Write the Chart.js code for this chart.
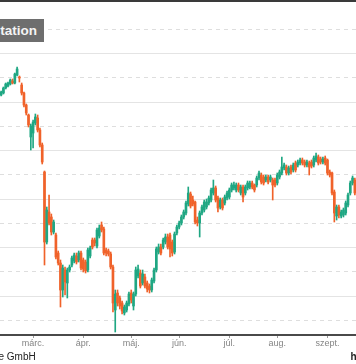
<!DOCTYPE html>
<html>
<head>
<meta charset="utf-8">
<script src="https://cdn.jsdelivr.net/npm/chart.js@4/dist/chart.umd.min.js"></script>
<style>
  html, body { margin: 0; padding: 0; background: #fff; }
  #wrap { position: relative; width: 356px; height: 364px; overflow: hidden; }
  #chartBox { position: absolute; left: 0; top: 0; width: 356px; height: 364px; }
  #topline { position: absolute; left: 0; top: 0; width: 356px; height: 2px; background: #3a3a3a; }
  #badge { position: absolute; left: 0; top: 19px; width: 44px; height: 23px; background: #6e6e6e; overflow: hidden; }
  #badge span { position: absolute; right: 7px; top: 0; font: bold 13.5px "Liberation Sans", Arial, sans-serif; line-height: 23px; color: #f4f4f4; white-space: nowrap; }
  #foot { position: absolute; left: -1.5px; top: 352px; font: 10px "Liberation Sans", Arial, sans-serif; line-height: 10px; color: #222; white-space: nowrap; }
  #footR { position: absolute; left: 350.5px; top: 352px; font: bold 10px "Liberation Sans", Arial, sans-serif; line-height: 10px; color: #222; white-space: nowrap; }
</style>
</head>
<body>
<div id="wrap">
  <div id="chartBox"><canvas id="c"></canvas></div>
  <div id="topline"></div>
  <div id="badge"><span>station</span></div>
  <div id="foot">e GmbH</div>
  <div id="footR">h</div>
</div>
<script>
// Month axis labels and the trading-day index where each month starts
const monthNames = ['márc.', 'ápr.', 'máj.', 'jún.', 'júl.', 'aug.', 'szept.'];
const monthStart = [14, 36, 57, 78, 100, 121, 143];

// Daily OHLC values
const open = [
  305,307,312,314,316,319,317,325,323,315,
  307,295,285,263,267,277,282,270,255,228,
  158,188,183,168,165,147,137,110,130,117,
  130,135,139,144,140,147,140,138,130,144,
  160,160,154,164,175,171,150,149,146,133,
  90,107,102,97,87,90,96,107,94,106,
  124,127,117,123,117,114,110,119,130,148,
  153,153,158,163,165,158,148,167,173,177,
  183,187,196,206,200,198,180,177,187,190,
  193,197,200,207,212,202,193,200,197,202,
  203,210,212,210,215,207,213,207,212,213,
  217,215,215,222,225,223,220,223,220,220,
  220,217,223,227,232,233,227,233,230,237,
  235,237,240,238,235,237,238,235,240,243,
  241,238,242,240,228,227,208,184,193,184,
  185,187,195,207,217,220
];
const close = [
  308,312,316,317,320,317,326,331,322,307,
  295,287,275,274,278,283,270,255,238,158,
  190,177,168,178,143,137,110,132,118,130,
  133,142,145,138,147,132,131,129,150,152,
  153,157,170,172,170,147,147,146,133,97,
  106,97,94,89,93,97,106,100,106,130,
  131,114,126,114,111,110,120,130,151,153,
  147,160,163,153,151,147,166,173,177,183,
  188,197,207,194,196,178,177,187,193,198,
  198,202,210,212,200,192,200,192,203,207,
  210,215,215,215,210,213,203,213,217,217,
  213,210,222,227,218,217,223,218,223,215,
  215,225,228,233,235,227,232,228,235,230,
  238,240,237,235,238,233,234,242,244,237,
  238,241,237,227,225,207,187,193,185,188,
  190,197,205,217,222,207
];
const high = [
  309,313,317,318,321,321,327,333,324,317,
  308,296,286,276,280,286,285,272,257,229,
  193,205,186,180,167,149,140,135,133,132,
  135,144,147,147,149,149,142,140,152,154,
  162,162,172,175,178,173,152,151,148,135,
  110,110,104,99,95,99,108,110,108,133,
  135,130,130,126,119,116,122,132,153,156,
  156,162,166,166,167,160,168,175,179,185,
  190,199,213,208,204,199,183,189,195,200,
  201,204,212,220,214,204,202,202,205,209,
  212,217,218,217,217,215,215,215,219,219,
  219,216,224,229,227,225,225,225,225,222,
  222,227,230,243,237,235,234,235,237,239,
  240,242,242,240,240,239,240,244,247,245,
  243,243,244,241,230,228,210,195,195,190,
  192,199,207,219,224,222
];
const low = [
  304,306,311,313,315,316,316,324,318,305,
  293,285,273,250,252,275,268,253,236,135,
  156,175,165,166,141,135,93,103,105,102,
  128,133,137,136,138,130,128,127,128,142,
  151,154,152,162,168,145,144,144,131,88,
  68,94,91,86,85,88,94,97,90,104,
  122,112,115,112,108,107,108,117,128,146,
  145,151,156,151,143,144,146,165,171,175,
  181,185,194,192,194,176,174,163,185,188,
  191,195,198,205,198,188,191,190,195,200,
  201,208,210,208,208,205,198,205,210,211,
  211,208,213,220,216,215,218,216,218,200,
  213,215,221,225,230,225,225,226,228,228,
  233,235,235,233,233,225,232,233,238,235,
  236,236,235,225,223,205,178,180,182,182,
  183,185,193,205,215,205
];

// Horizontal grid levels (solid and dashed)
const gridSolid = [346.5, 298, 249.5, 201, 152.5, 104];
const gridDashed = [370.75, 322.25, 273.75, 225.25, 176.75, 128.25, 79.75];

const UP = '#1fa783';
const DOWN = '#f0622a';

const labels = open.map((_, i) => {
  const k = monthStart.indexOf(i);
  return k >= 0 ? monthNames[k] : '';
});
const colors = open.map((o, i) => close[i] >= o ? UP : DOWN);
const bodies = open.map((o, i) => [o, close[i]]);
const wicks = low.map((l, i) => [l, high[i]]);

const yMin = 65, yMax = 398;

new Chart(document.getElementById('c'), {
  type: 'bar',
  data: {
    labels: labels,
    datasets: [
      {
        data: bodies,
        backgroundColor: colors,
        borderWidth: 0,
        borderSkipped: false,
        barThickness: 2,
        grouped: false,
        yAxisID: 'y'
      },
      {
        data: wicks,
        backgroundColor: colors,
        borderWidth: 0,
        borderSkipped: false,
        barThickness: 1,
        grouped: false,
        yAxisID: 'y'
      }
    ]
  },
  options: {
    responsive: true,
    maintainAspectRatio: false,
    animation: false,
    devicePixelRatio: 1,
    layout: { padding: { top: 2, left: 0, right: 0, bottom: 0 } },
    plugins: { legend: { display: false }, tooltip: { enabled: false } },
    scales: {
      x: {
        type: 'category',
        offset: true,
        afterBuildTicks: (s) => { s.ticks = monthStart.map(v => ({ value: v })); },
        afterFit: (s) => { s.height = 29; },
        ticks: {
          autoSkip: false,
          maxRotation: 0,
          padding: 0,
          color: '#858585',
          font: { family: 'Liberation Sans', size: 9 }
        },
        grid: {
          display: true,
          offset: false,
          drawOnChartArea: false,
          drawTicks: true,
          tickLength: 3,
          tickColor: '#9a9a9a'
        },
        border: { display: true, color: '#4a4a4a', width: 2 }
      },
      y: {
        type: 'linear',
        position: 'right',
        min: yMin,
        max: yMax,
        afterBuildTicks: (s) => { s.ticks = gridSolid.map(v => ({ value: v })); },
        afterFit: (s) => { s.width = 0; },
        ticks: { display: false },
        grid: { color: '#e4e4e4', lineWidth: 1, drawTicks: false },
        border: { display: false }
      },
      y2: {
        type: 'linear',
        position: 'right',
        min: yMin,
        max: yMax,
        afterBuildTicks: (s) => { s.ticks = gridDashed.map(v => ({ value: v })); },
        afterFit: (s) => { s.width = 0; },
        ticks: { display: false },
        grid: { color: '#dedede', lineWidth: 1, drawTicks: false },
        border: { display: false, dash: [4, 4] }
      }
    }
  }
});
</script>
</body>
</html>
